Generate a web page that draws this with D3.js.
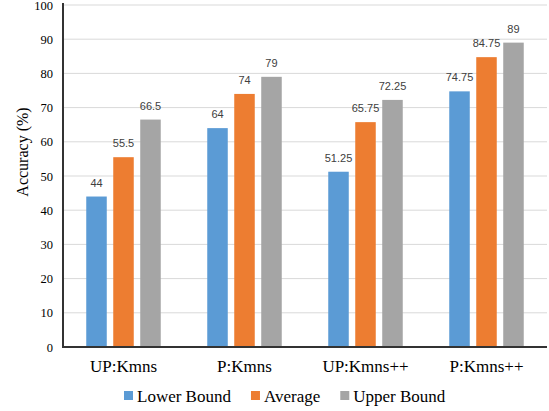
<!DOCTYPE html>
<html>
<head>
<meta charset="utf-8">
<script src="https://cdn.jsdelivr.net/npm/d3@7"></script>
<style>
  html, body { margin: 0; padding: 0; background: #fff; }
  svg { display: block; }
</style>
</head>
<body>
<svg id="chart" width="549" height="411"></svg>
<script>
const categories = ["UP:Kmns", "P:Kmns", "UP:Kmns++", "P:Kmns++"];
const seriesNames = ["Lower Bound", "Average", "Upper Bound"];
const lowerBound = [44, 64, 51.25, 74.75];
const average = [55.5, 74, 65.75, 84.75];
const upperBound = [66.5, 79, 72.25, 89];
const valueLabels = [
  ["44", "64", "51.25", "74.75"],
  ["55.5", "74", "65.75", "84.75"],
  ["66.5", "79", "72.25", "89"]
];
const yTicks = [0, 10, 20, 30, 40, 50, 60, 70, 80, 90, 100];
const colors = ["#5B9BD5", "#ED7D31", "#A5A5A5"];

(function () {
const SERIF = "'Liberation Serif', 'DejaVu Serif', serif";
const SANS = "'Liberation Sans', Arial, sans-serif";
const series = [lowerBound, average, upperBound];

const svg = d3.select("#chart");
const pl = 63, pr = 547, pt = 5, pb = 347;

const x = d3.scaleBand().domain(categories).range([pl, pr]).paddingInner(0).paddingOuter(0);
const inner = d3.scaleBand().domain(seriesNames).range([-37.25, 37.25]).paddingInner(0.24).paddingOuter(0);
const y = d3.scaleLinear().domain([0, 100]).range([pb, pt]);

// gridlines
svg.append("g")
  .selectAll("line")
  .data(yTicks.filter(d => d > 0))
  .join("line")
  .attr("x1", pl).attr("x2", pr)
  .attr("y1", d => y(d)).attr("y2", d => y(d))
  .attr("stroke", "#D9D9D9").attr("stroke-width", 1);

// bars
seriesNames.forEach((s, si) => {
  const g = svg.append("g");
  g.selectAll("rect")
    .data(series[si])
    .join("rect")
    .attr("x", (d, i) => x(categories[i]) + x.bandwidth() / 2 + inner(s))
    .attr("width", inner.bandwidth())
    .attr("y", d => y(d))
    .attr("height", d => y(0) - y(d))
    .attr("fill", colors[si]);
  g.selectAll("text")
    .data(series[si])
    .join("text")
    .attr("x", (d, i) => x(categories[i]) + x.bandwidth() / 2 + inner(s) + inner.bandwidth() / 2)
    .attr("y", d => y(d) - 10)
    .attr("text-anchor", "middle")
    .style("font-family", SANS)
    .style("font-size", "11px")
    .attr("fill", "#404040")
    .text((d, i) => valueLabels[si][i]);
});

// y axis
const yAxis = d3.axisLeft(y).tickValues(yTicks).tickSize(0).tickPadding(10);
const ya = svg.append("g").attr("transform", `translate(${pl},0)`).call(yAxis);
ya.select(".domain").remove();
ya.selectAll("text")
  .style("font-family", SERIF)
  .style("font-size", "12.5px")
  .attr("fill", "#000");

// x axis
const xAxis = d3.axisBottom(x).tickSize(0).tickPadding(13);
const xa = svg.append("g").attr("transform", `translate(0,${pb})`).call(xAxis);
xa.select(".domain").remove();
xa.selectAll("text")
  .style("font-family", SERIF)
  .style("font-size", "17px")
  .attr("fill", "#000");

// axis lines
svg.append("path")
  .attr("d", `M${pl},${pt - 2}V${pb}H${pr}`)
  .attr("fill", "none")
  .attr("stroke", "#333")
  .attr("stroke-width", 2);

// y title
svg.append("text")
  .attr("transform", `translate(28,152) rotate(-90)`)
  .attr("text-anchor", "middle")
  .style("font-family", SERIF)
  .style("font-size", "16px")
  .attr("fill", "#000")
  .text("Accuracy (%)");

// legend
const legend = svg.append("g");
let lx = 124;
seriesNames.forEach((s, si) => {
  legend.append("rect")
    .attr("x", lx).attr("y", 391).attr("width", 9).attr("height", 9)
    .attr("fill", colors[si]);
  const t = legend.append("text")
    .attr("x", lx + 13).attr("y", 402)
    .style("font-family", SERIF)
    .style("font-size", "17px")
    .attr("fill", "#000")
    .text(s);
  lx = lx + 13 + t.node().getComputedTextLength() + 20;
});
})();
</script>
</body>
</html>
